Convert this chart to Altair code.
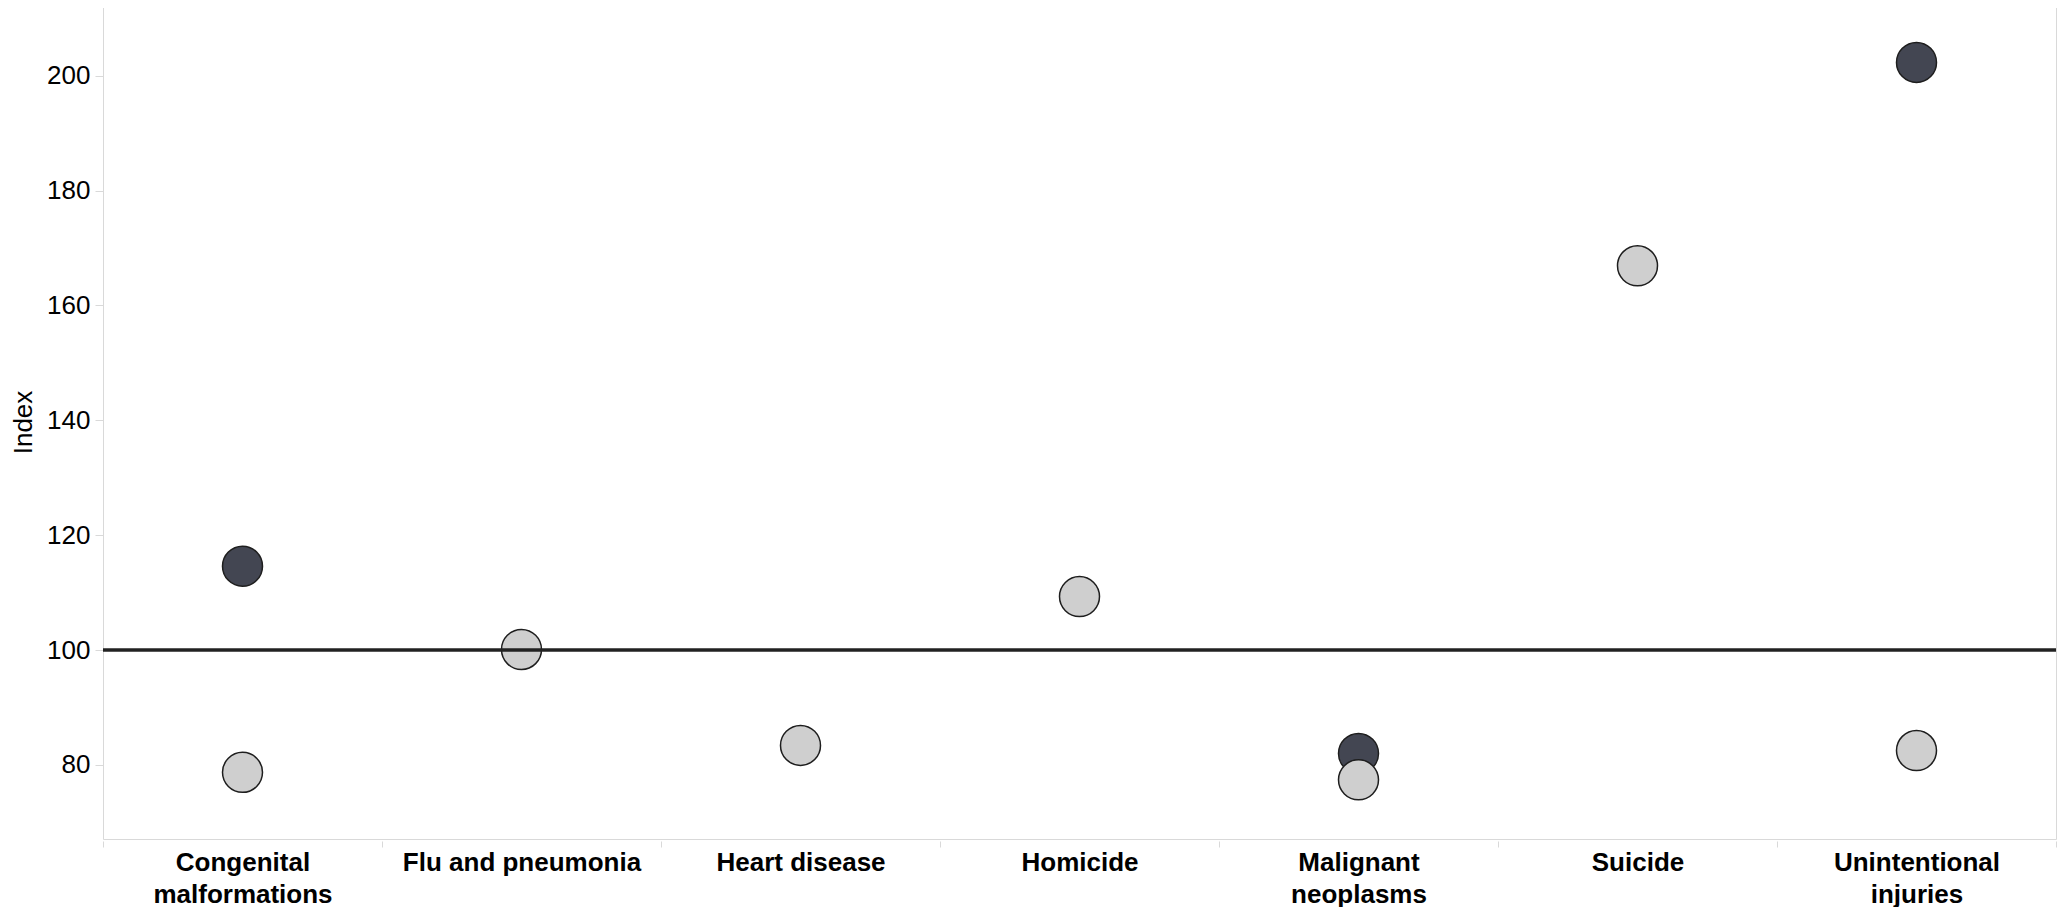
import altair as alt
import pandas as pd

categories = [
    "Congenital malformations",
    "Flu and pneumonia",
    "Heart disease",
    "Homicide",
    "Malignant neoplasms",
    "Suicide",
    "Unintentional injuries",
]
dark_categories = ["Congenital malformations", "Malignant neoplasms", "Unintentional injuries"]
dark_values = [114.6, 82.0, 202.3]
light_categories = categories
light_values = [78.7, 100.1, 83.4, 109.3, 77.4, 166.9, 82.5]
series_names = ["Series A", "Series B"]
series_colors = ["#434652", "#cfcfcf"]
reference_value = [100]
y_ticks = [80, 100, 120, 140, 160, 180, 200]
y_domain = [67.1, 212.3]

rows = []
for c, v in zip(dark_categories, dark_values):
    rows.append({"Cause": c, "Index": v, "Series": series_names[0]})
for c, v in zip(light_categories, light_values):
    rows.append({"Cause": c, "Index": v, "Series": series_names[1]})
df = pd.DataFrame(rows)

FONT = "Liberation Sans"
wrap = "datum.label == 'Congenital malformations' || datum.label == 'Malignant neoplasms' || datum.label == 'Unintentional injuries' ? split(datum.label, ' ') : datum.label"

x_enc = alt.X(
    "Cause:N",
    sort=categories,
    scale=alt.Scale(domain=categories, paddingInner=0, paddingOuter=0),
    axis=alt.Axis(
        title=None,
        labelAngle=0,
        labelFont=FONT,
        labelFontSize=26,
        labelFontWeight="bold",
        labelColor="#000000",
        labelBaseline="top",
        labelLineHeight=32,
        labelPadding=2,
        labelExpr=wrap,
        labelLimit=400,
        domain=False,
        tickBand="extent",
        tickSize=6,
        tickColor="#d9d9d9",
        offset=2,
    ),
)

y_scale = alt.Scale(domain=y_domain, nice=False, zero=False)
y_axis = alt.Axis(
    title="Index",
    titleFont=FONT,
    titleFontSize=26,
    titleFontWeight="normal",
    titleColor="#000000",
    titlePadding=10,
    values=y_ticks,
    grid=False,
    domain=False,
    tickSize=8,
    tickColor="#d9d9d9",
    labelFont=FONT,
    labelFontSize=26,
    labelColor="#000000",
    labelPadding=5,
)

points = alt.Chart(df).mark_circle(
    size=1600, opacity=1, stroke="#1e1e1e", strokeWidth=1.5
).encode(
    x=x_enc,
    y=alt.Y("Index:Q", scale=y_scale, axis=y_axis),
    color=alt.Color(
        "Series:N",
        scale=alt.Scale(domain=series_names, range=series_colors),
        legend=None,
    ),
)

rule = alt.Chart(pd.DataFrame({"Index": reference_value})).mark_rule(
    color="#222222", strokeWidth=3.5
).encode(y=alt.Y("Index:Q", scale=y_scale, axis=y_axis))

chart = (
    alt.layer(points, rule)
    .properties(
        width=1953,
        height=834,
        padding={"top": -3, "left": 2, "right": 0, "bottom": 0},
        background="#ffffff",
    )
    .configure_view(stroke="#d9d9d9", strokeWidth=1)
)

chart.save("out.html", embed_options={"renderer": "svg", "actions": False})
